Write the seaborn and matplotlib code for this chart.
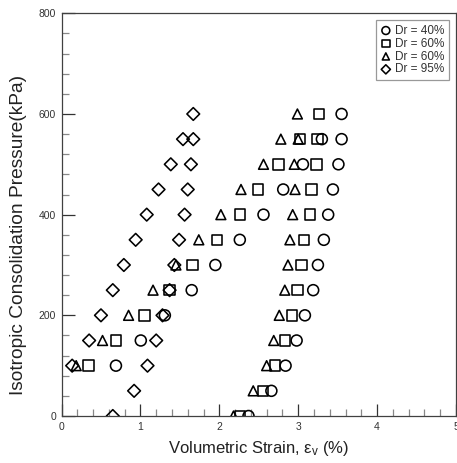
import matplotlib
matplotlib.use("Agg")
import matplotlib.pyplot as plt
from matplotlib.ticker import MultipleLocator
import pandas as pd
import seaborn as sns

# Pressure steps (kPa) for the two measured branches of every test
pressure_a = [100, 150, 200, 250, 300, 350, 400, 450, 500, 550]
pressure_b = [0, 50, 100, 150, 200, 250, 300, 350, 400, 450, 500, 550, 600]

# Volumetric strain (%) per test, branch a and branch b
circle_a = [0.69, 1.005, 1.31, 1.65, 1.95, 2.26, 2.56, 2.81, 3.06, 3.30]
circle_b = [2.37, 2.66, 2.84, 2.98, 3.085, 3.19, 3.25, 3.325, 3.38, 3.44, 3.51, 3.55, 3.55]
square_a = [0.34, 0.69, 1.05, 1.37, 1.66, 1.97, 2.26, 2.49, 2.75, 3.02]
square_b = [2.26, 2.55, 2.705, 2.83, 2.92, 2.99, 3.04, 3.07, 3.15, 3.17, 3.23, 3.245, 3.26]
triangle_a = [0.186, 0.52, 0.85, 1.16, 1.45, 1.74, 2.02, 2.275, 2.56, 2.78]
triangle_b = [2.18, 2.43, 2.60, 2.69, 2.76, 2.83, 2.87, 2.895, 2.93, 2.96, 2.95, 3.00, 2.99]
diamond_a = [0.135, 0.35, 0.50, 0.65, 0.79, 0.94, 1.08, 1.23, 1.385, 1.54]
diamond_b = [0.65, 0.92, 1.09, 1.20, 1.28, 1.37, 1.43, 1.49, 1.56, 1.60, 1.64, 1.67, 1.67]

series_labels = ["Dr = 40%", "Dr = 60%", "Dr = 60%", "Dr = 95%"]

x_ticks = [0, 1, 2, 3, 4, 5]
y_ticks = [0, 200, 400, 600, 800]

sns.set_style("white")
plt.rcParams["font.family"] = ["Liberation Sans", "DejaVu Sans"]
plt.rcParams["mathtext.fontset"] = "custom"
plt.rcParams["mathtext.rm"] = "Liberation Sans"
plt.rcParams["mathtext.it"] = "Liberation Sans"

fig = plt.figure(figsize=(4.57, 4.63), dpi=100)
ax = fig.add_axes([0.1346, 0.1015, 0.8632, 0.8698])

series = [
    (circle_a, circle_b, "o", 62, series_labels[0]),
    (square_a, square_b, "s", 56, series_labels[1]),
    (triangle_a, triangle_b, "^", 50, series_labels[2]),
    (diamond_a, diamond_b, "D", 42, series_labels[3]),
]

for strain_a, strain_b, mk, size, lab in series:
    df = pd.DataFrame({
        "strain": strain_a + strain_b,
        "pressure": pressure_a + pressure_b,
    })
    sns.scatterplot(data=df, x="strain", y="pressure", marker=mk, s=size,
                    facecolor="none", edgecolor="black", linewidth=1.15,
                    label=lab, ax=ax, zorder=3)

ax.set_xlim(0, 5)
ax.set_ylim(0, 800)
ax.set_xticks(x_ticks)
ax.set_yticks(y_ticks)
ax.xaxis.set_minor_locator(MultipleLocator(0.2))
ax.yaxis.set_minor_locator(MultipleLocator(40))
ax.tick_params(which="both", bottom=True, left=True, top=False, right=False)
ax.tick_params(which="major", direction="in", length=9, width=0.9,
               color="#333333", labelsize=7.5, labelcolor="#333333", pad=4)
ax.tick_params(which="minor", direction="in", length=5, width=0.9,
               color="#888888")

for sp in ax.spines.values():
    sp.set_color("#404040")
    sp.set_linewidth(0.9)

ax.set_xlabel(r"Volumetric Strain, $\epsilon_{\mathrm{v}}$ (%)", fontsize=12,
              color="#222222", labelpad=5)
ax.set_ylabel("Isotropic Consolidation Pressure(kPa)", fontsize=13.8,
              color="#222222")
ax.yaxis.set_label_coords(-0.088, 0.45)

leg = ax.legend(loc="upper right", fontsize=8.5, frameon=True, fancybox=False,
                markerscale=0.72, handletextpad=0.3, labelspacing=0.08,
                borderpad=0.36, handlelength=1.0, borderaxespad=0.6)
leg.get_frame().set_edgecolor("#808080")
leg.get_frame().set_linewidth(0.9)
for t in leg.get_texts():
    t.set_color("#333333")

fig.savefig("out.png", dpi=100)
